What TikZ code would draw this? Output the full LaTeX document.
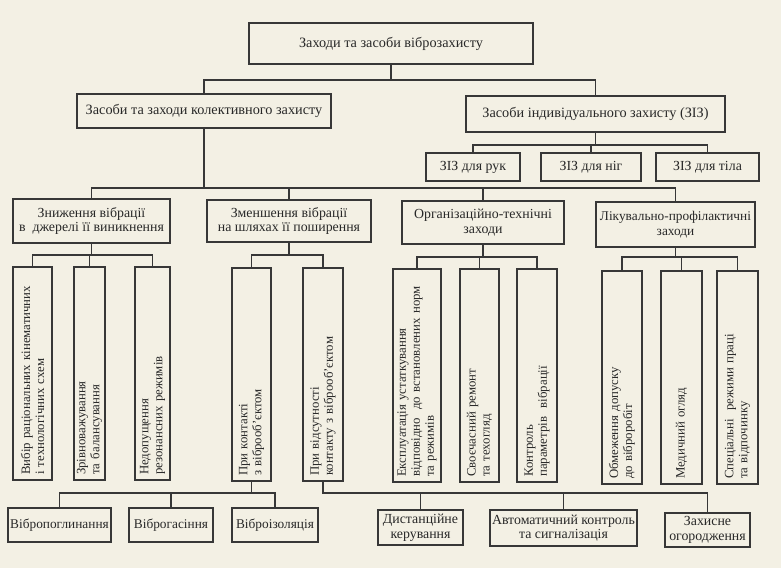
\documentclass[tikz,border=0pt]{standalone}
\usepackage{fontspec}
\setmainfont{Liberation Serif}
\definecolor{bg}{RGB}{243,240,228}
\definecolor{ln}{RGB}{55,55,55}
\definecolor{txt}{RGB}{40,40,40}
\begin{document}
\begin{tikzpicture}[x=0.75pt,y=-0.75pt,
  every node/.style={font=\fontsize{10.4}{11}\selectfont, text=txt},
  box/.style={draw=ln, line width=0.8pt, inner sep=0pt, align=center},
  big/.style={font=\fontsize{10.7}{11}\selectfont},
  small/.style={font=\fontsize{10}{11}\selectfont},
  sz/.style 2 args={minimum width=#1*0.75pt, minimum height=#2*0.75pt},
  vbox/.style={draw=ln, line width=0.8pt, rotate=90, inner sep=0pt, align=left,
    font=\fontsize{9.6}{10.5}\selectfont,
    text width=152pt, minimum width=159.75pt, minimum height=#1*0.75pt},
  conn/.style={draw=ln, line width=0.8pt}]
\fill[bg] (0,0) rectangle (781,568);
\useasboundingbox (0,0) rectangle (781,568);

% top level
\node[box, big, sz={284}{41}] (top) at (391,43.5) {Заходи та засоби віброзахисту};
\node[box, big, sz={254}{34}] (kz) at (204,111) {Засоби та заходи колективного захисту};
\node[box, big, sz={259}{36}] (zis) at (595.5,114) {Засоби індивідуального захисту (ЗІЗ)};
\node[box, sz={94}{28}] (ruk) at (473,167) {ЗІЗ для рук};
\node[box, sz={100}{28}] (nig) at (591,167) {ЗІЗ для ніг};
\node[box, sz={103}{28}] (tila) at (707.5,167) {ЗІЗ для тіла};

% second level
\node[box, sz={157}{44}] (b1) at (91.5,221) {Зниження вібрації\\в~ джерелі її виникнення};
\node[box, sz={164}{42}] (b2) at (289,221) {Зменшення вібрації\\на шляхах її поширення};
\node[box, sz={162}{43}] (b3) at (483,222.5) {Організаційно-технічні\\заходи};
\node[box, small, sz={159}{45}] (b4) at (675.5,224.5) {Лікувально-профілактичні\\заходи};

% vertical boxes
\node[vbox=39] (v1) at (32.5,373.5) {Вибір раціональних кінематичних\\і технологічних схем};
\node[vbox=31] (v2) at (89.5,373.5) {Зрівноважування\\та балансування};
\node[vbox=35] (v3) at (152.5,373.5) {Недопущення\\резонансних режимів};
\node[vbox=39] (v4) at (251.5,374.5) {При контакті\\з віброоб’єктом};
\node[vbox=40] (v5) at (323,374.5) {При відсутності\\контакту з віброоб’єктом};
\node[vbox=48] (v6) at (417,375.5) {Експлуатація устаткування\\відповідно~ до встановлених норм\\та режимів};
\node[vbox=39] (v7) at (479.5,375.5) {Своєчасний ремонт\\та техогляд};
\node[vbox=40] (v8) at (537,375.5) {Контроль\\параметрів~ вібрації};
\node[vbox=40] (v9) at (622,377.5) {Обмеження допуску\\до віброробіт};
\node[vbox=41] (v10) at (681.5,377.5) {Медичний огляд};
\node[vbox=41] (v11) at (737.5,377.5) {Спеціальні~ режими праці\\та відпочинку};

% bottom level
\node[box, small, sz={103}{34}] (w1) at (59.5,525) {Вібропоглинання};
\node[box, small, sz={84}{34}] (w2) at (171,525) {Віброгасіння};
\node[box, small, sz={86}{34}] (w3) at (275,525) {Віброізоляція};
\node[box, sz={85}{35}] (w4) at (420.5,527.5) {Дистанційне\\керування};
\node[box, sz={147}{36}] (w5) at (563.5,528) {Автоматичний контроль\\та сигналізація};
\node[box, sz={85}{34}] (w6) at (707.5,530) {Захисне\\огородження};

% bus coordinates
\coordinate (j1) at (0,80);
\coordinate (j2) at (0,145);
\coordinate (j3) at (0,188);
\coordinate (j4) at (0,255);
\coordinate (j5) at (0,257);
\coordinate (j6) at (0,493);

% connectors
\draw[conn] (top.south) -- (top.south |- j1);
\draw[conn] (kz.north) -- (kz.north |- j1) -- (zis.north |- j1) -- (zis.north);

\draw[conn] (zis.south) -- (zis.south |- j2);
\draw[conn] (ruk.north) -- (ruk.north |- j2) -- (tila.north |- j2) -- (tila.north);
\draw[conn] (nig.north) -- (nig.north |- j2);

\draw[conn] (kz.south) -- (kz.south |- j3);
\draw[conn] (b1.north) -- (b1.north |- j3) -- (b4.north |- j3) -- (b4.north);
\draw[conn] (b2.north) -- (b2.north |- j3);
\draw[conn] (b3.north) -- (b3.north |- j3);

\draw[conn] (b1.south) -- (b1.south |- j4);
\draw[conn] (v1.east) -- (v1.east |- j4) -- (v3.east |- j4) -- (v3.east);
\draw[conn] (v2.east) -- (v2.east |- j4);

\draw[conn] (b2.south) -- (b2.south |- j4);
\draw[conn] (v4.east) -- (v4.east |- j4) -- (v5.east |- j4) -- (v5.east);

\draw[conn] (b3.south) -- (b3.south |- j5);
\draw[conn] (v6.east) -- (v6.east |- j5) -- (v8.east |- j5) -- (v8.east);
\draw[conn] (v7.east) -- (v7.east |- j5);

\draw[conn] (b4.south) -- (b4.south |- j5);
\draw[conn] (v9.east) -- (v9.east |- j5) -- (v11.east |- j5) -- (v11.east);
\draw[conn] (v10.east) -- (v10.east |- j5);

\draw[conn] (v4.west) -- (v4.west |- j6);
\draw[conn] (w1.north) -- (w1.north |- j6) -- (w3.north |- j6) -- (w3.north);
\draw[conn] (w2.north) -- (w2.north |- j6);

\draw[conn] (v5.west) -- (v5.west |- j6) -- (w6.north |- j6) -- (w6.north);
\draw[conn] (w4.north) -- (w4.north |- j6);
\draw[conn] (w5.north) -- (w5.north |- j6);
\end{tikzpicture}
\end{document}
